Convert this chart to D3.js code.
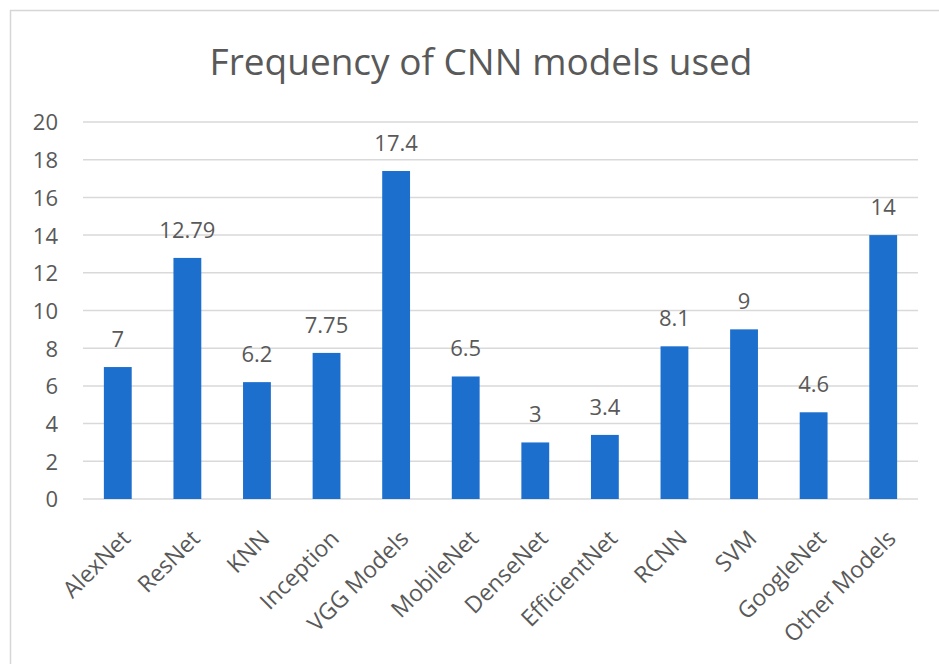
<!DOCTYPE html>
<html>
<head>
<meta charset="utf-8">
<script src="https://cdn.jsdelivr.net/npm/d3@7/dist/d3.min.js"></script>
<style>
  html, body { margin: 0; padding: 0; background: #ffffff; }
  svg { display: block; }
  text { font-family: "Open Sans", "Noto Sans", sans-serif; fill: #595959; }
</style>
</head>
<body>
<svg id="chart" width="939" height="664"></svg>
<script>
// Chart content
const chartTitle = "Frequency of CNN models used";
const models = ["AlexNet", "ResNet", "KNN", "Inception", "VGG Models", "MobileNet",
                "DenseNet", "EfficientNet", "RCNN", "SVM", "GoogleNet", "Other Models"];
const frequency = [7, 12.79, 6.2, 7.75, 17.4, 6.5, 3, 3.4, 8.1, 9, 4.6, 14];
const yTicks = [0, 2, 4, 6, 8, 10, 12, 14, 16, 18, 20];

const svg = d3.select("#chart");
const W = 939, H = 664;
const plot = { left: 83, right: 918, top: 122, bottom: 499 };

// Chart-area frame
svg.append("rect")
  .attr("x", 10.5).attr("y", 10.5)
  .attr("width", W + 20).attr("height", H + 20)
  .attr("fill", "#ffffff")
  .attr("stroke", "#d6d6d6").attr("stroke-width", 1.5);

const x = d3.scaleBand()
  .domain(models)
  .range([plot.left, plot.right])
  .paddingInner(0.6)
  .paddingOuter(0.3);

const y = d3.scaleLinear()
  .domain([0, 20])
  .range([plot.bottom, plot.top]);

// Title
svg.append("text")
  .attr("x", 481).attr("y", 75)
  .attr("text-anchor", "middle")
  .style("font-size", "37px")
  .text(chartTitle);

// Horizontal gridlines
svg.append("g")
  .selectAll("line")
  .data(yTicks)
  .join("line")
  .attr("x1", plot.left).attr("x2", plot.right)
  .attr("y1", d => y(d)).attr("y2", d => y(d))
  .attr("stroke", "#d9d9d9")
  .attr("stroke-width", 1.5);

// Y axis labels
const yAxis = d3.axisLeft(y).tickValues(yTicks).tickSize(0).tickPadding(0);
const yg = svg.append("g")
  .attr("transform", "translate(58,0)")
  .call(yAxis);
yg.select(".domain").remove();
yg.selectAll("text")
  .style("font-size", "22px")
  .attr("fill", "#595959")
  .attr("dy", "0.36em");

// Bars
svg.append("g")
  .selectAll("rect")
  .data(models.map((m, i) => ({ m, v: frequency[i] })))
  .join("rect")
  .attr("x", d => x(d.m))
  .attr("y", d => y(d.v))
  .attr("width", x.bandwidth())
  .attr("height", d => y(0) - y(d.v))
  .attr("fill", "#1c6fcd");

// Value labels
svg.append("g")
  .selectAll("text")
  .data(models.map((m, i) => ({ m, v: frequency[i] })))
  .join("text")
  .attr("x", d => x(d.m) + x.bandwidth() / 2)
  .attr("y", d => y(d.v) - 20)
  .attr("text-anchor", "middle")
  .style("font-size", "22px")
  .text(d => String(d.v));

// Category labels, rotated
const xAxis = d3.axisBottom(x).tickSize(0).tickPadding(0);
const xg = svg.append("g")
  .attr("transform", `translate(0,${plot.bottom})`)
  .call(xAxis);
xg.select(".domain").remove();
xg.selectAll("text")
  .style("font-size", "23px")
  .attr("fill", "#595959")
  .attr("text-anchor", "end")
  .attr("dy", null)
  .attr("y", 0)
  .attr("transform", "translate(14,41) rotate(-45)");
</script>
</body>
</html>
